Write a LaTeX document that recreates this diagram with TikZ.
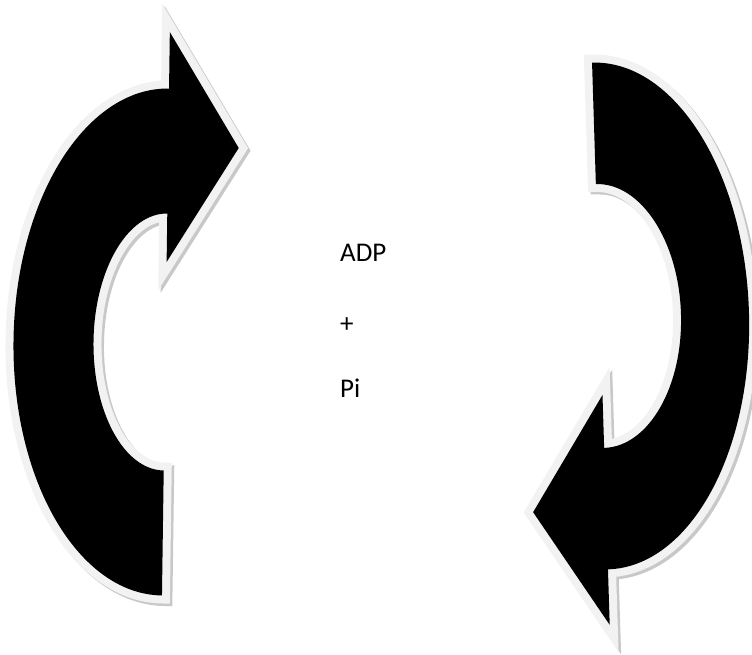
\documentclass[tikz,border=0pt]{standalone}
\usepackage{fontspec}
\setmainfont{Carlito}
\definecolor{rimgray}{HTML}{F2F2F2}
\definecolor{shadowgray}{HTML}{C8C8C8}

% outlines of the two curved arrows (1 unit = 1pt)
\newcommand{\pathLeft}{(165.5,565.5)
  arc[start angle=90, end angle=270, x radius=152pt, y radius=253.5pt]
  -- (165.5,183.5)
  arc[start angle=270, end angle=90, x radius=72pt, y radius=128.5pt]
  -- (165.5,392) -- (236,507) -- (165.5,622) -- cycle}
\newcommand{\pathRight}{(600,84.5)
  arc[start angle=-90, end angle=90, x radius=149pt, y radius=253.5pt]
  -- (600,470)
  arc[start angle=90, end angle=-90, x radius=81pt, y radius=132pt]
  -- (600,259) -- (527,144) -- (600,29) -- cycle}

\begin{document}
\begin{tikzpicture}[x=1pt, y=1pt,
    arrowshadow/.style={draw=shadowgray, fill=shadowgray, line width=16pt, line join=miter},
    arrowrim/.style={draw=rimgray, line width=16pt, line join=miter},
    arrowbody/.style={fill=black},
    label/.style={anchor=base west, inner sep=0pt, font=\fontsize{27}{32}\selectfont}]

    \useasboundingbox (0,0) rectangle (752,654);

    % Panah kiri
    \begin{scope}[rotate around={-0.8:(165.5,312)}]
        \path[arrowshadow, shift={(2.5,-2.5)}] \pathLeft;
        \path[arrowrim] \pathLeft;
        \path[arrowbody] \pathLeft;
    \end{scope}

    % Panah kanan
    \begin{scope}[rotate around={1.8:(600,338)}]
        \path[arrowshadow, shift={(2.5,-2.5)}] \pathRight;
        \path[arrowrim] \pathRight;
        \path[arrowbody] \pathRight;
    \end{scope}

    % Teks di tengah
    \node[label] (adp) at (340,392) {ADP};
    \node[label] (plus) at (340,321) {+};
    \node[label] (pi) at (340,257) {Pi};

\end{tikzpicture}
\end{document}
